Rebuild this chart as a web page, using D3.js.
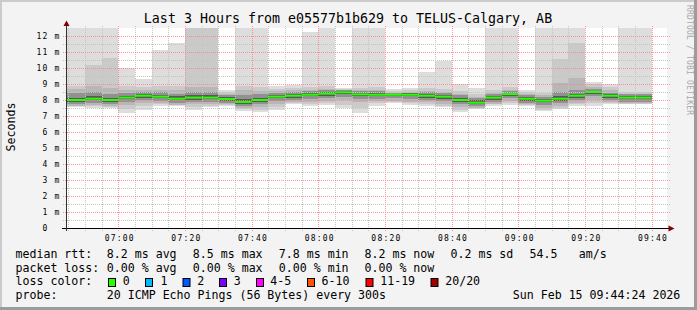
<!DOCTYPE html>
<html><head><meta charset="utf-8">
<script src="https://cdn.jsdelivr.net/npm/d3@7"></script>
<style>
html,body{margin:0;padding:0;background:#f3f3f3;}
svg{display:block;}
text{font-family:"DejaVu Sans Mono",monospace;}
</style>
</head><body>
<svg id="chart" width="697" height="310"></svg>
<script>
// ---- data (5-minute slots, value in ms) ----
const slotStart = ["06:40","06:45","06:50","06:55","07:00","07:05","07:10","07:15","07:20","07:25","07:30","07:35",
  "07:40","07:45","07:50","07:55","08:00","08:05","08:10","08:15","08:20","08:25","08:30","08:35",
  "08:40","08:45","08:50","08:55","09:00","09:05","09:10","09:15","09:20","09:25","09:30","09:35"];
const median = [8.00,8.00,8.08,8.00,8.15,8.27,8.21,8.08,8.15,8.15,8.06,7.88,8.00,8.21,8.27,8.33,8.40,8.48,
  8.35,8.33,8.33,8.33,8.27,8.21,8.00,7.83,8.15,8.37,8.08,7.96,8.08,8.27,8.50,8.27,8.15,8.15];
// sorted ping ranks (20 pings): p01 = fastest ... p20 = slowest
const p20 = [13,13,13,13,10.0,9.33,11.1,11.55,13,13,8.65,13,13,8.88,8.94,12.25,13,8.75,13,13,8.67,8.73,9.77,10.46,
  9.0,8.75,13,13,8.65,13,13,13,9.15,9.0,13,13];
const p19 = [8.9,8.9,10.2,10.6,8.85,8.8,8.9,8.85,13,13,8.5,8.9,8.8,8.7,8.75,8.8,8.85,8.7,8.75,8.8,8.55,8.6,8.75,8.7,
  8.55,8.35,8.6,8.8,8.5,8.45,10.56,11.55,9.0,8.8,8.5,8.5];
const p18 = [8.7,8.7,8.85,8.75,8.6,8.6,8.65,8.6,8.8,8.8,8.4,8.6,8.55,8.55,8.6,8.65,8.7,8.65,8.6,8.65,8.45,8.5,8.55,8.5,
  8.4,8.2,8.45,8.6,8.4,8.3,9.05,9.4,8.8,8.6,8.4,8.4];
const p16 = [8.45,8.45,8.5,8.4,8.45,8.5,8.5,8.4,8.5,8.5,8.3,8.3,8.4,8.45,8.5,8.55,8.6,8.6,8.55,8.55,8.42,8.45,8.5,8.45,
  8.3,8.1,8.35,8.55,8.3,8.2,8.5,8.6,8.7,8.45,8.35,8.35];
const p13 = [8.15,8.15,8.22,8.15,8.28,8.38,8.33,8.22,8.3,8.3,8.18,8.05,8.15,8.32,8.38,8.44,8.5,8.55,8.46,8.44,8.4,8.43,
  8.38,8.33,8.14,7.97,8.27,8.46,8.2,8.08,8.22,8.4,8.58,8.38,8.27,8.27];
const p08 = [7.9,7.9,7.97,7.9,8.04,8.15,8.1,7.97,8.03,8.04,7.95,7.78,7.88,8.1,8.15,8.22,8.28,8.36,8.23,8.22,8.22,8.22,
  8.15,8.08,7.88,7.72,8.03,8.25,7.96,7.85,7.96,8.15,8.4,8.15,8.04,8.04];
const p05 = [7.78,7.78,7.82,7.75,7.9,8.0,7.95,7.82,7.88,7.9,7.82,7.65,7.72,7.95,8.0,8.05,8.12,8.2,8.08,8.08,8.1,8.08,
  8.0,7.92,7.72,7.6,7.88,8.1,7.82,7.7,7.8,8.0,8.25,8.0,7.9,7.9];
const p03 = [7.65,7.65,7.7,7.62,7.7,7.8,7.8,7.7,7.72,7.75,7.72,7.52,7.55,7.75,7.85,7.9,7.95,7.98,7.9,7.92,7.95,7.9,
  7.85,7.75,7.55,7.5,7.75,7.92,7.72,7.52,7.6,7.8,8.0,7.85,7.8,7.8];
const p02 = [7.6,7.6,7.6,7.55,7.45,7.6,7.72,7.7,7.55,7.65,7.68,7.45,7.4,7.55,7.8,7.72,7.8,7.7,7.5,7.8,7.88,7.8,
  7.75,7.65,7.4,7.48,7.72,7.8,7.7,7.4,7.5,7.72,7.82,7.8,7.78,7.78];
const p01 = [7.55,7.55,7.5,7.5,7.2,7.4,7.65,7.65,7.38,7.55,7.62,7.3,7.23,7.37,7.75,7.6,7.69,7.5,7.2,7.65,7.81,7.69,
  7.65,7.54,7.23,7.44,7.65,7.69,7.65,7.29,7.44,7.65,7.65,7.75,7.75,7.75];

const yTickValues = [0,1,2,3,4,5,6,7,8,9,10,11,12];
const xTickLabels = ["07:00","07:20","07:40","08:00","08:20","08:40","09:00","09:20","09:40"];
const lossLabels = ["0","1","2","3","4-5","6-10","11-19","20/20"];
const lossColors = ["#26ff00","#00b8ff","#0059ff","#7e00ff","#ff00ff","#ff5500","#ff0000","#a00000"];
const titleText = "Last 3 Hours from e05577b1b629 to TELUS-Calgary, AB";

// ---- setup ----
const svg = d3.select("#chart");
const W = 697, H = 310;
const day = (hm, s=0) => { const [h,m] = hm.split(":").map(Number); return new Date(2026,1,15,h,m,s); };
const x = d3.scaleTime().domain([day("06:44",36), day("09:44",36)]).range([67, 667]);
const y = d3.scaleLinear().domain([0, 12.5]).range([228, 28]);

// background + border
svg.append("rect").attr("width",W).attr("height",H).attr("fill","#f3f3f3");
svg.append("rect").attr("x",0).attr("y",0).attr("width",W).attr("height",2).attr("fill","#cbcbcb");
svg.append("rect").attr("x",0).attr("y",0).attr("width",2).attr("height",H).attr("fill","#cbcbcb");
svg.append("rect").attr("x",0).attr("y",H-3).attr("width",W).attr("height",3).attr("fill","#9c9c9c");
svg.append("rect").attr("x",W-3).attr("y",0).attr("width",3).attr("height",H).attr("fill","#9c9c9c");

// canvas
svg.append("rect").attr("x",67).attr("y",28).attr("width",600).attr("height",200).attr("fill","#ffffff");

svg.append("clipPath").attr("id","plotclip").append("rect").attr("x",67).attr("y",28).attr("width",600).attr("height",200);
const plot = svg.append("g").attr("clip-path","url(#plotclip)");

// smoke layers
const layers = [
  {lo:p01, hi:p20, c:"#dddddd"},
  {lo:p02, hi:p19, c:"#cacaca"},
  {lo:p03, hi:p18, c:"#b7b7b7"},
  {lo:p05, hi:p16, c:"#919191"},
  {lo:p08, hi:p13, c:"#585858"}
];
const slotEnd = s => new Date(day(s).getTime() + 5*60000);
layers.forEach(L => {
  plot.append("g").selectAll("rect").data(slotStart).join("rect")
    .attr("x", s => x(day(s)))
    .attr("width", s => x(slotEnd(s)) - x(day(s)))
    .attr("y", (s,i) => y(L.hi[i]))
    .attr("height", (s,i) => y(L.lo[i]) - y(L.hi[i]))
    .attr("fill", L.c)
    .attr("shape-rendering","crispEdges");
});

// grid
const grid = svg.append("g");
const t0 = day("06:45"), t1 = day("09:40");
const minorT = d3.timeMinute.every(5).range(t0, new Date(t1.getTime()+1));
minorT.forEach(t => {
  const major = t.getMinutes() % 20 === 0;
  grid.append("line").attr("x1",Math.round(x(t))+0.5).attr("x2",Math.round(x(t))+0.5)
    .attr("y1",26).attr("y2",231)
    .attr("stroke", major ? "#ff8080" : "#c4c4c4").attr("stroke-opacity", major?0.8:1)
    .attr("stroke-dasharray","1,1");
});
d3.range(0.5, 12.5, 0.5).forEach(v => {
  const major = Number.isInteger(v);
  grid.append("line").attr("x1",63).attr("x2",670)
    .attr("y1",Math.round(y(v))+0.5).attr("y2",Math.round(y(v))+0.5)
    .attr("stroke", major ? "#ff8080" : "#c4c4c4").attr("stroke-opacity", major?0.8:1)
    .attr("stroke-dasharray","1,1");
});

// median line (coloured by loss = 0)
svg.append("g").selectAll("rect").data(slotStart).join("rect")
  .attr("clip-path","url(#plotclip)")
  .attr("x", s => x(day(s)))
  .attr("width", s => x(slotEnd(s)) - x(day(s)))
  .attr("y", (s,i) => y(median[i]) - 1)
  .attr("height", 2)
  .attr("fill", lossColors[0]);

// axes
const yAxis = d3.axisLeft(y).tickValues(yTickValues).tickSize(0).tickPadding(0)
  .tickFormat(d => d === 0 ? "0\u00a0\u00a0" : d + "\u00a0m");
const gy = svg.append("g").attr("transform","translate(67,0)").call(yAxis);
gy.select(".domain").remove();
gy.selectAll("text").attr("x",-6.5).attr("dy","0.36em").attr("fill","#000")
  .style("font-family","DejaVu Sans Mono").style("font-size","8px").style("letter-spacing","1.2px");

const xAxis = d3.axisBottom(x).tickValues(xTickLabels.map(s => day(s))).tickSize(0).tickPadding(0)
  .tickFormat(d3.timeFormat("%H:%M"));
const gx = svg.append("g").attr("transform","translate(0,228)").call(xAxis);
gx.select(".domain").remove();
gx.selectAll("text").attr("y",13).attr("dy",0).attr("dx","0.9").attr("fill","#000")
  .style("font-family","DejaVu Sans Mono").style("font-size","8px").style("letter-spacing","1.2px");

// axis lines + arrows
svg.append("line").attr("x1",62).attr("x2",670).attr("y1",228.5).attr("y2",228.5).attr("stroke","#000").attr("stroke-width",1);
svg.append("line").attr("x1",66.5).attr("x2",66.5).attr("y1",231).attr("y2",25).attr("stroke","#333").attr("stroke-width",1);
svg.append("path").attr("d","M668.5,225.5L674.5,228.5L668.5,231.5Z").attr("fill","#7f0000");
svg.append("path").attr("d","M63.5,26L66.5,20.5L69.5,26Z").attr("fill","#7f0000");

// title
svg.append("text").attr("x",348).attr("y",23).attr("text-anchor","middle")
  .style("font-size","13.3px").attr("fill","#000").text(titleText);

// y axis title
svg.append("text").attr("transform","translate(15,127) rotate(-90)").attr("text-anchor","middle")
  .style("font-size","11.6px").attr("fill","#000").text("Seconds");

// watermark
svg.append("text").attr("transform","translate(687,5) rotate(90)")
  .style("font-size","8px").attr("fill","#a8a8a8").attr("textLength",110).attr("lengthAdjust","spacing")
  .text("RRDTOOL / TOBI OETIKER");

// legend
const lg = svg.append("g").style("font-size","11.6px").attr("fill","#000");
const put = (tx, px, py) => lg.append("text").attr("x",px).attr("y",py).text(tx);
const rows = [258, 271.7, 285.4, 299];
put("median rtt:", 15.5, rows[0]);
put("8.2 ms avg", 106.8, rows[0]);
put("8.5 ms max", 192.8, rows[0]);
put("7.8 ms min", 278.8, rows[0]);
put("8.2 ms now", 364.5, rows[0]);
put("0.2 ms sd", 450.5, rows[0]);
put("54.5", 529.5, rows[0]);
put("am/s", 578.8, rows[0]);
put("packet loss:", 15.5, rows[1]);
put("0.00 % avg", 106.8, rows[1]);
put("0.00 % max", 192.8, rows[1]);
put("0.00 % min", 278.8, rows[1]);
put("0.00 % now", 364.5, rows[1]);
put("loss color:", 15.5, rows[2]);
const boxX = [108.5, 145.5, 183, 219.5, 256.5, 307.5, 366, 431];
const labX = [122.8, 160.5, 197.2, 233.8, 270.2, 321.5, 380.2, 445.2];
lossLabels.forEach((l,i) => {
  lg.append("rect").attr("x",boxX[i]).attr("y",278.5).attr("width",7).attr("height",8)
    .attr("fill",lossColors[i]).attr("stroke","#000").attr("stroke-width",1);
  put(l, labX[i], rows[2]);
});
put("probe:", 15.5, rows[3]);
put("20 ICMP Echo Pings (56 Bytes) every 300s", 106.8, rows[3]);
put("Sun Feb 15 09:44:24 2026", 512.8, rows[3]);
</script>
</body></html>
